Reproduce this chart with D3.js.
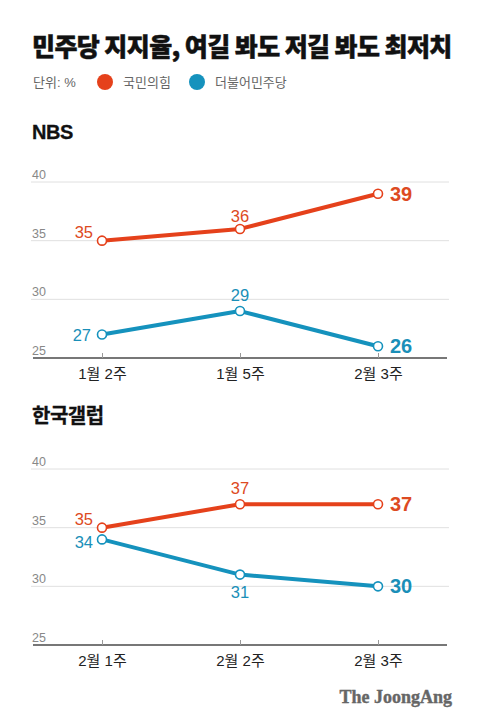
<!DOCTYPE html>
<html>
<head>
<meta charset="utf-8">
<script src="https://cdn.jsdelivr.net/npm/d3@7"></script>
<style>
  body { margin: 0; background: #fff; }
  text { font-family: "Liberation Sans", "Noto Sans CJK KR", sans-serif; }
</style>
</head>
<body>
<div id="chart"></div>
<script>
const seriesNames = ["국민의힘", "더불어민주당"]
const yTicks = [25, 30, 35, 40]

const nbsWeeks = ["1월 2주", "1월 5주", "2월 3주"]
const nbsPPP = [35, 36, 39]
const nbsDPK = [27, 29, 26]

const gallupWeeks = ["2월 1주", "2월 2주", "2월 3주"]
const gallupPPP = [35, 37, 37]
const gallupDPK = [34, 31, 30]

const colors = { ppp: "#e5411b", dpk: "#1592bd" }
const labelColors = { ppp: "#dd4a22", dpk: "#1a8fb8" }

const width = 480, height = 728

const svg = d3.select("#chart").append("svg")
    .attr("width", width)
    .attr("height", height)

svg.append("rect").attr("width", width).attr("height", height).attr("fill", "#fff")

// title
svg.append("text")
    .attr("x", 32).attr("y", 56)
    .style("font-family", "'Noto Sans CJK KR'")
    .style("font-size", "25px")
    .style("font-weight", 900)
    .style("letter-spacing", "-0.6px")
    .attr("fill", "#111")
    .attr("stroke", "#111")
    .attr("stroke-width", 0.5)
    .text("민주당 지지율, 여길 봐도 저길 봐도 최저치")

// legend
svg.append("text")
    .attr("x", 33).attr("y", 87)
    .style("font-size", "13px")
    .attr("fill", "#666")
    .text("단위: %")

let legend = svg.selectAll(".legend")
    .data(seriesNames)
    .enter().append("g")
    .attr("class", "legend")
    .attr("transform", (d, i) => `translate(${i === 0 ? 105 : 197},82)`)

legend.append("circle")
    .attr("r", 8)
    .attr("fill", (d, i) => i === 0 ? colors.ppp : colors.dpk)

legend.append("text")
    .attr("x", 18).attr("y", 5)
    .style("font-size", "13px")
    .attr("fill", "#666")
    .text(d => d)

// labelPos: [dx, dy] offset of each value label from its point, per series
function drawPanel(title, titleY, top, weeks, ppp, dpk, labelPos) {
    var margin = { left: 33, right: 33 },
        axisY = top + 176

    var x = d3.scalePoint().domain(weeks).range([margin.left, width - margin.right]).padding(0.5)
    var y = d3.scaleLinear().domain([25, 40]).range([axisY, top])

    var g = svg.append("g")

    g.append("text")
        .attr("x", 32).attr("y", titleY)
        .style("font-size", "20px")
        .style("font-weight", "bold")
        .style("letter-spacing", "-0.5px")
        .attr("fill", "#111")
        .attr("stroke", "#111")
        .attr("stroke-width", 0.3)
        .text(title)

    // gridlines
    g.selectAll(".grid")
        .data(yTicks.filter(t => t > 25))
        .enter().append("line")
        .attr("x1", margin.left - 2).attr("x2", width - margin.right + 2)
        .attr("y1", d => y(d)).attr("y2", d => y(d))
        .attr("stroke", "#e0e0e0")
        .attr("stroke-width", 1)

    g.selectAll(".ytick")
        .data(yTicks)
        .enter().append("text")
        .attr("x", margin.left - 1)
        .attr("y", d => y(d) - 3)
        .style("font-size", "12.5px")
        .attr("fill", "#888")
        .text(d => d)

    // x axis
    var xAxis = d3.axisBottom(x).tickSize(-5).tickSizeOuter(0).tickPadding(10)
    var ax = g.append("g")
        .attr("transform", `translate(0,${axisY})`)
        .call(xAxis)
    ax.select(".domain").attr("stroke", "#777").attr("stroke-width", 2)
        .attr("d", `M${margin.left},0H${width - margin.right}`)
    ax.selectAll(".tick line").attr("stroke", "#999")
    ax.selectAll(".tick text")
        .style("font-size", "15px")
        .style("font-family", "'Liberation Sans', 'Noto Sans CJK KR', sans-serif")
        .attr("fill", "#222")

    var line = d3.line().x((d, i) => x(weeks[i])).y(d => y(d))

    let series = [
        { key: "ppp", values: ppp },
        { key: "dpk", values: dpk }
    ]

    series.forEach(s => {
        g.append("path")
            .datum(s.values)
            .attr("d", line)
            .attr("fill", "none")
            .attr("stroke", colors[s.key])
            .attr("stroke-width", 4)
            .attr("stroke-linejoin", "round")

        g.selectAll(".pt-" + s.key)
            .data(s.values)
            .enter().append("circle")
            .attr("cx", (d, i) => x(weeks[i]))
            .attr("cy", d => y(d))
            .attr("r", 4.5)
            .attr("fill", "#fff")
            .attr("stroke", colors[s.key])
            .attr("stroke-width", 1.6)

        g.selectAll(".lbl-" + s.key)
            .data(s.values)
            .enter().append("text")
            .attr("x", (d, i) => x(weeks[i]) + labelPos[s.key][i][0])
            .attr("y", (d, i) => y(d) + labelPos[s.key][i][1])
            .attr("text-anchor", (d, i) => i === 0 ? "end" : i === 1 ? "middle" : "start")
            .style("font-size", (d, i) => i === 2 ? "20px" : "16.5px")
            .style("font-weight", (d, i) => i === 2 ? "bold" : "normal")
            .attr("fill", labelColors[s.key])
            .text(d => d)
    })
}

drawPanel("NBS", 139, 182, nbsWeeks, nbsPPP, nbsDPK, {
    ppp: [[-9, -3], [0, -7], [12, 7]],
    dpk: [[-11, 6], [0, -10], [12, 7]]
})
drawPanel("한국갤럽", 423, 469, gallupWeeks, gallupPPP, gallupDPK, {
    ppp: [[-9, -3], [0, -10], [12, 7]],
    dpk: [[-9, 9], [0, 23], [12, 7]]
})

// logo
svg.append("text")
    .attr("x", 452).attr("y", 703)
    .attr("text-anchor", "end")
    .style("font-family", "'Liberation Serif', serif")
    .style("font-size", "18px")
    .style("font-weight", "bold")
    .attr("fill", "#666")
    .attr("stroke", "#666")
    .attr("stroke-width", 0.4)
    .text("The JoongAng")
</script>
</body>
</html>
